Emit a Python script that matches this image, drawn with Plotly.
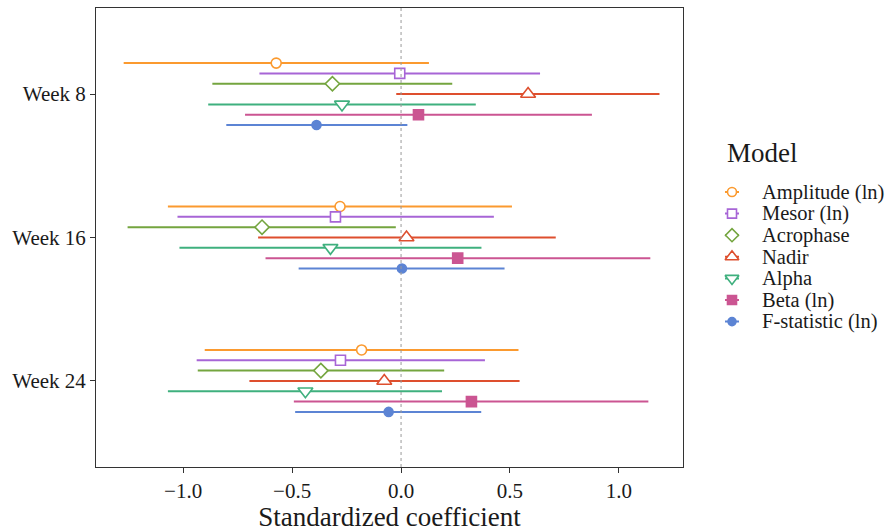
import plotly.graph_objects as go

# Time points (y axis categories, top to bottom)
weeks = ["Week 8", "Week 16", "Week 24"]

# Models, in legend / dodge order
models = ["Amplitude (ln)", "Mesor (ln)", "Acrophase", "Nadir", "Alpha", "Beta (ln)", "F-statistic (ln)"]

# Standardized coefficient estimates [Week 8, Week 16, Week 24]
est_amplitude = [-0.573, -0.280, -0.181]
est_mesor = [-0.006, -0.301, -0.278]
est_acrophase = [-0.315, -0.638, -0.368]
est_nadir = [0.583, 0.025, -0.077]
est_alpha = [-0.271, -0.324, -0.439]
est_beta = [0.080, 0.260, 0.323]
est_fstat = [-0.388, 0.004, -0.057]

# Lower 95% CI bounds
lo_amplitude = [-1.273, -1.070, -0.901]
lo_mesor = [-0.650, -1.026, -0.938]
lo_acrophase = [-0.866, -1.255, -0.933]
lo_nadir = [-0.022, -0.656, -0.696]
lo_alpha = [-0.885, -1.017, -1.070]
lo_beta = [-0.716, -0.622, -0.492]
lo_fstat = [-0.802, -0.470, -0.486]

# Upper 95% CI bounds
hi_amplitude = [0.128, 0.509, 0.539]
hi_mesor = [0.638, 0.426, 0.385]
hi_acrophase = [0.235, -0.024, 0.198]
hi_nadir = [1.186, 0.710, 0.544]
hi_alpha = [0.343, 0.369, 0.188]
hi_beta = [0.876, 1.144, 1.135]
hi_fstat = [0.029, 0.475, 0.368]

estimates = [est_amplitude, est_mesor, est_acrophase, est_nadir, est_alpha, est_beta, est_fstat]
lowers = [lo_amplitude, lo_mesor, lo_acrophase, lo_nadir, lo_alpha, lo_beta, lo_fstat]
uppers = [hi_amplitude, hi_mesor, hi_acrophase, hi_nadir, hi_alpha, hi_beta, hi_fstat]

colors = ["#FB9A2F", "#A765D6", "#74A53F", "#DE4F2E", "#3FB07E", "#CB5592", "#5C84D4"]
symbols = ["circle", "square", "diamond", "triangle-up", "triangle-down", "square", "circle"]
sizes = [10, 10, 11, 13, 13, 10, 9]
filled = [False, False, False, False, False, True, True]

FONT = "Liberation Serif, Times New Roman, serif"
INK = "#1a1a1a"
dodge = 0.072

W, H = 890, 532
M_L, M_T, M_B = 96, 8, 65
PANEL_RIGHT = 683
plot_w = W - M_L
main_dom = (PANEL_RIGHT - M_L) / plot_w
key_dom = 0.76

fig = go.Figure()

for i, name in enumerate(models):
    col = colors[i]
    fill = col if filled[i] else "white"
    ypos = [g + 1 + (i - 3) * dodge for g in range(len(weeks))]
    fig.add_trace(go.Scatter(
        x=estimates[i], y=ypos, mode="markers",
        marker=dict(symbol=symbols[i], size=sizes[i], color=fill,
                    line=dict(color=col, width=1.6)),
        error_x=dict(type="data", symmetric=False,
                     array=[h - e for h, e in zip(uppers[i], estimates[i])],
                     arrayminus=[e - l for e, l in zip(estimates[i], lowers[i])],
                     color=col, thickness=2, width=0),
        showlegend=False, name=name,
    ))

fig.add_vline(x=0, line=dict(color="#999999", width=1, dash="dot"))

# Legend panel drawn on its own hidden axes (units ~ pixels)
key_x0 = M_L + key_dom * plot_w
key_top = 192.0
key_step = 21.6
for i, name in enumerate(models):
    col = colors[i]
    fill = col if filled[i] else "white"
    yc = key_top + i * key_step
    fig.add_trace(go.Scatter(
        x=[725, 739], y=[yc, yc], mode="lines", xaxis="x2", yaxis="y2",
        line=dict(color=col, width=2), showlegend=False, hoverinfo="skip",
    ))
    fig.add_trace(go.Scatter(
        x=[732], y=[yc], mode="markers", xaxis="x2", yaxis="y2",
        marker=dict(symbol=symbols[i], size=sizes[i] - 1, color=fill,
                    line=dict(color=col, width=1.6)),
        showlegend=False, hoverinfo="skip",
    ))
    fig.add_annotation(
        x=760, y=yc, xref="x2", yref="y2", text=name, showarrow=False,
        xanchor="left", yanchor="middle",
        font=dict(size=20.5, family=FONT, color=INK),
    )
fig.add_annotation(
    x=725, y=153, xref="x2", yref="y2", text="Model", showarrow=False,
    xanchor="left", yanchor="middle",
    font=dict(size=27, family=FONT, color=INK),
)

fig.update_layout(
    width=W, height=H,
    margin=dict(l=M_L, r=0, t=M_T, b=M_B),
    plot_bgcolor="white", paper_bgcolor="white",
    font=dict(family=FONT, color=INK),
    showlegend=False,
    xaxis=dict(
        domain=[0, main_dom],
        range=[-1.40, 1.294], tickvals=[-1.0, -0.5, 0.0, 0.5, 1.0],
        ticktext=["\u22121.0", "\u22120.5", "0.0", "0.5", "1.0"],
        showgrid=False, zeroline=False,
        showline=True, linecolor="#333333", linewidth=1, mirror=True,
        ticks="outside", ticklen=5, tickcolor="#333333",
        tickfont=dict(size=21, family=FONT, color=INK),
        title=dict(text="Standardized coefficient", font=dict(size=27, family=FONT), standoff=6),
    ),
    yaxis=dict(
        range=[3.6, 0.4], tickvals=[1, 2, 3], ticktext=weeks,
        showgrid=False, zeroline=False,
        showline=True, linecolor="#333333", linewidth=1, mirror=True,
        ticks="outside", ticklen=5, tickcolor="#333333",
        tickfont=dict(size=21, family=FONT, color=INK),
    ),
    xaxis2=dict(domain=[key_dom, 1.0], range=[key_x0, W], visible=False,
                anchor="y2", fixedrange=True),
    yaxis2=dict(domain=[0, 1], range=[H - M_B, M_T], visible=False,
                anchor="x2", fixedrange=True),
)

fig.write_html("out.html")
